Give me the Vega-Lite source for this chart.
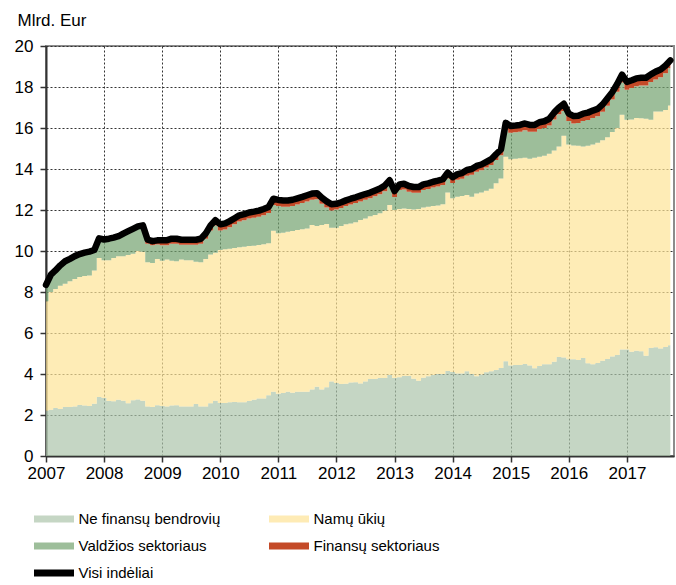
{
"$schema": "https://vega.github.io/schema/vega-lite/v6.json",
"width": 628, "height": 410,
"autosize": {"type": "none"},
"padding": {"left": 46, "top": 46, "right": 2, "bottom": 129},
"background": "white",
"config": {"view": {"stroke": "#8c8c8c", "strokeWidth": 2}, "font": "Liberation Sans"},
"data": {"values": [
{"d":"2007-01-01","Ne finansų bendrovių":2.21,"Namų ūkių":5.34,"Valdžios sektoriaus":0.74,"Finansų sektoriaus":0.06},
{"d":"2007-02-01","Ne finansų bendrovių":2.26,"Namų ūkių":5.74,"Valdžios sektoriaus":0.79,"Finansų sektoriaus":0.06},
{"d":"2007-03-01","Ne finansų bendrovių":2.34,"Namų ūkių":5.81,"Valdžios sektoriaus":0.84,"Finansų sektoriaus":0.06},
{"d":"2007-04-01","Ne finansų bendrovių":2.29,"Namų ūkių":6.01,"Valdžios sektoriaus":0.94,"Finansų sektoriaus":0.06},
{"d":"2007-05-01","Ne finansų bendrovių":2.39,"Namų ūkių":6.01,"Valdžios sektoriaus":1.03,"Finansų sektoriaus":0.07},
{"d":"2007-06-01","Ne finansų bendrovių":2.39,"Namų ūkių":6.13,"Valdžios sektoriaus":1.03,"Finansų sektoriaus":0.07},
{"d":"2007-07-01","Ne finansų bendrovių":2.41,"Namų ūkių":6.23,"Valdžios sektoriaus":1.04,"Finansų sektoriaus":0.07},
{"d":"2007-08-01","Ne finansų bendrovių":2.49,"Namų ūkių":6.24,"Valdžios sektoriaus":1.05,"Finansų sektoriaus":0.07},
{"d":"2007-09-01","Ne finansų bendrovių":2.46,"Namų ūkių":6.32,"Valdžios sektoriaus":1.06,"Finansų sektoriaus":0.08},
{"d":"2007-10-01","Ne finansų bendrovių":2.44,"Namų ūkių":6.36,"Valdžios sektoriaus":1.09,"Finansų sektoriaus":0.08},
{"d":"2007-11-01","Ne finansų bendrovių":2.55,"Namų ūkių":6.50,"Valdžios sektoriaus":0.92,"Finansų sektoriaus":0.08},
{"d":"2007-12-01","Ne finansų bendrovių":2.88,"Namų ūkių":6.78,"Valdžios sektoriaus":0.88,"Finansų sektoriaus":0.08},
{"d":"2008-01-01","Ne finansų bendrovių":2.83,"Namų ūkių":6.72,"Valdžios sektoriaus":0.91,"Finansų sektoriaus":0.10},
{"d":"2008-02-01","Ne finansų bendrovių":2.68,"Namų ūkių":6.87,"Valdžios sektoriaus":0.95,"Finansų sektoriaus":0.10},
{"d":"2008-03-01","Ne finansų bendrovių":2.67,"Namų ūkių":6.99,"Valdžios sektoriaus":0.89,"Finansų sektoriaus":0.10},
{"d":"2008-04-01","Ne finansų bendrovių":2.75,"Namų ūkių":7.00,"Valdžios sektoriaus":0.87,"Finansų sektoriaus":0.10},
{"d":"2008-05-01","Ne finansų bendrovių":2.70,"Namų ūkių":7.05,"Valdžios sektoriaus":1.00,"Finansų sektoriaus":0.10},
{"d":"2008-06-01","Ne finansų bendrovių":2.57,"Namų ūkių":7.23,"Valdžios sektoriaus":1.07,"Finansų sektoriaus":0.10},
{"d":"2008-07-01","Ne finansų bendrovių":2.72,"Namų ūkių":7.14,"Valdžios sektoriaus":1.12,"Finansų sektoriaus":0.10},
{"d":"2008-08-01","Ne finansų bendrovių":2.76,"Namų ūkių":7.24,"Valdžios sektoriaus":1.10,"Finansų sektoriaus":0.10},
{"d":"2008-09-01","Ne finansų bendrovių":2.70,"Namų ūkių":7.26,"Valdžios sektoriaus":1.17,"Finansų sektoriaus":0.12},
{"d":"2008-10-01","Ne finansų bendrovių":2.42,"Namų ūkių":7.03,"Valdžios sektoriaus":0.90,"Finansų sektoriaus":0.20},
{"d":"2008-11-01","Ne finansų bendrovių":2.39,"Namų ūkių":7.03,"Valdžios sektoriaus":0.86,"Finansų sektoriaus":0.20},
{"d":"2008-12-01","Ne finansų bendrovių":2.47,"Namų ūkių":7.14,"Valdžios sektoriaus":0.71,"Finansų sektoriaus":0.20},
{"d":"2009-01-01","Ne finansų bendrovių":2.44,"Namų ūkių":7.09,"Valdžios sektoriaus":0.75,"Finansų sektoriaus":0.25},
{"d":"2009-02-01","Ne finansų bendrovių":2.42,"Namų ūkių":7.16,"Valdžios sektoriaus":0.70,"Finansų sektoriaus":0.25},
{"d":"2009-03-01","Ne finansų bendrovių":2.46,"Namų ūkių":7.07,"Valdžios sektoriaus":0.82,"Finansų sektoriaus":0.25},
{"d":"2009-04-01","Ne finansų bendrovių":2.47,"Namų ūkių":7.03,"Valdžios sektoriaus":0.85,"Finansų sektoriaus":0.25},
{"d":"2009-05-01","Ne finansų bendrovių":2.41,"Namų ūkių":7.17,"Valdžios sektoriaus":0.72,"Finansų sektoriaus":0.25},
{"d":"2009-06-01","Ne finansų bendrovių":2.41,"Namų ūkių":7.14,"Valdžios sektoriaus":0.75,"Finansų sektoriaus":0.25},
{"d":"2009-07-01","Ne finansų bendrovių":2.42,"Namų ūkių":7.13,"Valdžios sektoriaus":0.75,"Finansų sektoriaus":0.25},
{"d":"2009-08-01","Ne finansų bendrovių":2.54,"Namų ūkių":6.93,"Valdžios sektoriaus":0.83,"Finansų sektoriaus":0.25},
{"d":"2009-09-01","Ne finansų bendrovių":2.41,"Namų ūkių":7.04,"Valdžios sektoriaus":0.90,"Finansų sektoriaus":0.25},
{"d":"2009-10-01","Ne finansų bendrovių":2.41,"Namų ūkių":7.20,"Valdžios sektoriaus":0.99,"Finansų sektoriaus":0.25},
{"d":"2009-11-01","Ne finansų bendrovių":2.57,"Namų ūkių":7.26,"Valdžios sektoriaus":1.17,"Finansų sektoriaus":0.25},
{"d":"2009-12-01","Ne finansų bendrovių":2.70,"Namų ūkių":7.21,"Valdžios sektoriaus":1.34,"Finansų sektoriaus":0.25},
{"d":"2010-01-01","Ne finansų bendrovių":2.59,"Namų ūkių":7.46,"Valdžios sektoriaus":0.95,"Finansų sektoriaus":0.30},
{"d":"2010-02-01","Ne finansų bendrovių":2.59,"Namų ūkių":7.49,"Valdžios sektoriaus":0.97,"Finansų sektoriaus":0.30},
{"d":"2010-03-01","Ne finansų bendrovių":2.62,"Namų ūkių":7.49,"Valdžios sektoriaus":1.05,"Finansų sektoriaus":0.30},
{"d":"2010-04-01","Ne finansų bendrovių":2.63,"Namų ūkių":7.52,"Valdžios sektoriaus":1.15,"Finansų sektoriaus":0.30},
{"d":"2010-05-01","Ne finansų bendrovių":2.62,"Namų ūkių":7.56,"Valdžios sektoriaus":1.26,"Finansų sektoriaus":0.30},
{"d":"2010-06-01","Ne finansų bendrovių":2.62,"Namų ūkių":7.59,"Valdžios sektoriaus":1.29,"Finansų sektoriaus":0.30},
{"d":"2010-07-01","Ne finansų bendrovių":2.68,"Namų ūkių":7.56,"Valdžios sektoriaus":1.34,"Finansų sektoriaus":0.30},
{"d":"2010-08-01","Ne finansų bendrovių":2.75,"Namų ūkių":7.51,"Valdžios sektoriaus":1.36,"Finansų sektoriaus":0.30},
{"d":"2010-09-01","Ne finansų bendrovių":2.80,"Namų ūkių":7.49,"Valdžios sektoriaus":1.38,"Finansų sektoriaus":0.30},
{"d":"2010-10-01","Ne finansų bendrovių":2.81,"Namų ūkių":7.52,"Valdžios sektoriaus":1.42,"Finansų sektoriaus":0.30},
{"d":"2010-11-01","Ne finansų bendrovių":2.96,"Namų ūkių":7.42,"Valdžios sektoriaus":1.47,"Finansų sektoriaus":0.30},
{"d":"2010-12-01","Ne finansų bendrovių":3.14,"Namų ūkių":7.85,"Valdžios sektoriaus":1.26,"Finansų sektoriaus":0.30},
{"d":"2011-01-01","Ne finansų bendrovių":3.04,"Namų ūkių":7.82,"Valdžios sektoriaus":1.33,"Finansų sektoriaus":0.30},
{"d":"2011-02-01","Ne finansų bendrovių":3.07,"Namų ūkių":7.82,"Valdžios sektoriaus":1.27,"Finansų sektoriaus":0.30},
{"d":"2011-03-01","Ne finansų bendrovių":3.14,"Namų ūkių":7.80,"Valdžios sektoriaus":1.22,"Finansų sektoriaus":0.30},
{"d":"2011-04-01","Ne finansų bendrovių":3.09,"Namų ūkių":7.89,"Valdžios sektoriaus":1.22,"Finansų sektoriaus":0.30},
{"d":"2011-05-01","Ne finansų bendrovių":3.14,"Namų ūkių":7.88,"Valdžios sektoriaus":1.25,"Finansų sektoriaus":0.30},
{"d":"2011-06-01","Ne finansų bendrovių":3.14,"Namų ūkių":7.92,"Valdžios sektoriaus":1.28,"Finansų sektoriaus":0.30},
{"d":"2011-07-01","Ne finansų bendrovių":3.14,"Namų ūkių":7.96,"Valdžios sektoriaus":1.32,"Finansų sektoriaus":0.30},
{"d":"2011-08-01","Ne finansų bendrovių":3.24,"Namų ūkių":8.03,"Valdžios sektoriaus":1.23,"Finansų sektoriaus":0.30},
{"d":"2011-09-01","Ne finansų bendrovių":3.38,"Namų ūkių":7.84,"Valdžios sektoriaus":1.30,"Finansų sektoriaus":0.30},
{"d":"2011-10-01","Ne finansų bendrovių":3.24,"Namų ūkių":8.03,"Valdžios sektoriaus":1.03,"Finansų sektoriaus":0.30},
{"d":"2011-11-01","Ne finansų bendrovių":3.35,"Namų ūkių":7.97,"Valdžios sektoriaus":0.80,"Finansų sektoriaus":0.30},
{"d":"2011-12-01","Ne finansų bendrovių":3.63,"Namų ūkių":7.51,"Valdžios sektoriaus":0.84,"Finansų sektoriaus":0.30},
{"d":"2012-01-01","Ne finansų bendrovių":3.56,"Namų ūkių":7.58,"Valdžios sektoriaus":0.88,"Finansų sektoriaus":0.28},
{"d":"2012-02-01","Ne finansų bendrovių":3.51,"Namų ūkių":7.71,"Valdžios sektoriaus":0.88,"Finansų sektoriaus":0.28},
{"d":"2012-03-01","Ne finansų bendrovių":3.52,"Namų ūkių":7.78,"Valdžios sektoriaus":0.89,"Finansų sektoriaus":0.28},
{"d":"2012-04-01","Ne finansų bendrovių":3.58,"Namų ūkių":7.76,"Valdžios sektoriaus":0.93,"Finansų sektoriaus":0.28},
{"d":"2012-05-01","Ne finansų bendrovių":3.60,"Namų ūkių":7.80,"Valdžios sektoriaus":0.94,"Finansų sektoriaus":0.28},
{"d":"2012-06-01","Ne finansų bendrovių":3.54,"Namų ūkių":7.97,"Valdžios sektoriaus":0.91,"Finansų sektoriaus":0.28},
{"d":"2012-07-01","Ne finansų bendrovių":3.63,"Namų ūkių":7.96,"Valdžios sektoriaus":0.91,"Finansų sektoriaus":0.28},
{"d":"2012-08-01","Ne finansų bendrovių":3.76,"Namų ūkių":7.94,"Valdžios sektoriaus":0.87,"Finansų sektoriaus":0.28},
{"d":"2012-09-01","Ne finansų bendrovių":3.76,"Namų ūkių":8.00,"Valdžios sektoriaus":0.91,"Finansų sektoriaus":0.28},
{"d":"2012-10-01","Ne finansų bendrovių":3.80,"Namų ūkių":8.04,"Valdžios sektoriaus":0.93,"Finansų sektoriaus":0.28},
{"d":"2012-11-01","Ne finansų bendrovių":3.80,"Namų ūkių":8.17,"Valdžios sektoriaus":0.95,"Finansų sektoriaus":0.28},
{"d":"2012-12-01","Ne finansų bendrovių":3.95,"Namų ūkių":8.29,"Valdžios sektoriaus":0.93,"Finansų sektoriaus":0.28},
{"d":"2013-01-01","Ne finansų bendrovių":3.80,"Namų ūkių":8.20,"Valdžios sektoriaus":0.64,"Finansų sektoriaus":0.28},
{"d":"2013-02-01","Ne finansų bendrovių":3.84,"Namų ūkių":8.21,"Valdžios sektoriaus":0.92,"Finansų sektoriaus":0.28},
{"d":"2013-03-01","Ne finansų bendrovių":3.90,"Namų ūkių":8.17,"Valdžios sektoriaus":0.93,"Finansų sektoriaus":0.28},
{"d":"2013-04-01","Ne finansų bendrovių":3.90,"Namų ūkių":8.15,"Valdžios sektoriaus":0.84,"Finansų sektoriaus":0.28},
{"d":"2013-05-01","Ne finansų bendrovių":3.77,"Namų ūkių":8.25,"Valdžios sektoriaus":0.82,"Finansų sektoriaus":0.28},
{"d":"2013-06-01","Ne finansų bendrovių":3.67,"Namų ūkių":8.38,"Valdžios sektoriaus":0.79,"Finansų sektoriaus":0.28},
{"d":"2013-07-01","Ne finansų bendrovių":3.82,"Namų ūkių":8.30,"Valdžios sektoriaus":0.85,"Finansų sektoriaus":0.28},
{"d":"2013-08-01","Ne finansų bendrovių":3.89,"Namų ūkių":8.27,"Valdžios sektoriaus":0.86,"Finansų sektoriaus":0.28},
{"d":"2013-09-01","Ne finansų bendrovių":3.95,"Namų ūkių":8.25,"Valdžios sektoriaus":0.90,"Finansų sektoriaus":0.28},
{"d":"2013-10-01","Ne finansų bendrovių":4.00,"Namų ūkių":8.22,"Valdžios sektoriaus":0.93,"Finansų sektoriaus":0.28},
{"d":"2013-11-01","Ne finansų bendrovių":4.00,"Namų ūkių":8.28,"Valdžios sektoriaus":0.94,"Finansų sektoriaus":0.28},
{"d":"2013-12-01","Ne finansų bendrovių":4.15,"Namų ūkių":8.70,"Valdžios sektoriaus":0.69,"Finansų sektoriaus":0.28},
{"d":"2014-01-01","Ne finansų bendrovių":4.10,"Namų ūkių":8.47,"Valdžios sektoriaus":0.75,"Finansų sektoriaus":0.28},
{"d":"2014-02-01","Ne finansų bendrovių":4.03,"Namų ūkių":8.62,"Valdžios sektoriaus":0.82,"Finansų sektoriaus":0.28},
{"d":"2014-03-01","Ne finansų bendrovių":4.03,"Namų ūkių":8.65,"Valdžios sektoriaus":0.84,"Finansų sektoriaus":0.28},
{"d":"2014-04-01","Ne finansų bendrovių":4.13,"Namų ūkių":8.60,"Valdžios sektoriaus":0.94,"Finansų sektoriaus":0.28},
{"d":"2014-05-01","Ne finansų bendrovių":4.00,"Namų ūkių":8.65,"Valdžios sektoriaus":1.07,"Finansų sektoriaus":0.28},
{"d":"2014-06-01","Ne finansų bendrovių":3.89,"Namų ūkių":8.92,"Valdžios sektoriaus":1.06,"Finansų sektoriaus":0.28},
{"d":"2014-07-01","Ne finansų bendrovių":3.97,"Namų ūkių":8.88,"Valdžios sektoriaus":1.09,"Finansų sektoriaus":0.28},
{"d":"2014-08-01","Ne finansų bendrovių":4.08,"Namų ūkių":8.86,"Valdžios sektoriaus":1.13,"Finansų sektoriaus":0.28},
{"d":"2014-09-01","Ne finansų bendrovių":4.13,"Namų ūkių":8.91,"Valdžios sektoriaus":1.16,"Finansų sektoriaus":0.28},
{"d":"2014-10-01","Ne finansų bendrovių":4.20,"Namų ūkių":9.10,"Valdžios sektoriaus":1.14,"Finansų sektoriaus":0.28},
{"d":"2014-11-01","Ne finansų bendrovių":4.29,"Namų ūkių":9.25,"Valdžios sektoriaus":1.13,"Finansų sektoriaus":0.28},
{"d":"2014-12-01","Ne finansų bendrovių":4.62,"Namų ūkių":9.98,"Valdžios sektoriaus":1.32,"Finansų sektoriaus":0.33},
{"d":"2015-01-01","Ne finansų bendrovių":4.41,"Namų ūkių":10.06,"Valdžios sektoriaus":1.30,"Finansų sektoriaus":0.33},
{"d":"2015-02-01","Ne finansų bendrovių":4.44,"Namų ūkių":10.06,"Valdžios sektoriaus":1.29,"Finansų sektoriaus":0.33},
{"d":"2015-03-01","Ne finansų bendrovių":4.44,"Namų ūkių":10.08,"Valdžios sektoriaus":1.30,"Finansų sektoriaus":0.33},
{"d":"2015-04-01","Ne finansų bendrovių":4.49,"Namų ūkių":10.06,"Valdžios sektoriaus":1.34,"Finansų sektoriaus":0.33},
{"d":"2015-05-01","Ne finansų bendrovių":4.41,"Namų ūkių":10.09,"Valdžios sektoriaus":1.32,"Finansų sektoriaus":0.33},
{"d":"2015-06-01","Ne finansų bendrovių":4.28,"Namų ūkių":10.27,"Valdžios sektoriaus":1.27,"Finansų sektoriaus":0.33},
{"d":"2015-07-01","Ne finansų bendrovių":4.39,"Namų ūkių":10.21,"Valdžios sektoriaus":1.35,"Finansų sektoriaus":0.33},
{"d":"2015-08-01","Ne finansų bendrovių":4.47,"Namų ūkių":10.18,"Valdžios sektoriaus":1.35,"Finansų sektoriaus":0.33},
{"d":"2015-09-01","Ne finansų bendrovių":4.47,"Namų ūkių":10.28,"Valdžios sektoriaus":1.37,"Finansų sektoriaus":0.33},
{"d":"2015-10-01","Ne finansų bendrovių":4.60,"Namų ūkių":10.30,"Valdžios sektoriaus":1.52,"Finansų sektoriaus":0.33},
{"d":"2015-11-01","Ne finansų bendrovių":4.83,"Namų ūkių":10.27,"Valdžios sektoriaus":1.57,"Finansų sektoriaus":0.33},
{"d":"2015-12-01","Ne finansų bendrovių":4.81,"Namų ūkių":10.81,"Valdžios sektoriaus":1.21,"Finansų sektoriaus":0.35},
{"d":"2016-01-01","Ne finansų bendrovių":4.72,"Namų ūkių":10.48,"Valdžios sektoriaus":1.14,"Finansų sektoriaus":0.36},
{"d":"2016-02-01","Ne finansų bendrovių":4.72,"Namų ūkių":10.43,"Valdžios sektoriaus":1.07,"Finansų sektoriaus":0.36},
{"d":"2016-03-01","Ne finansų bendrovių":4.68,"Namų ūkių":10.46,"Valdžios sektoriaus":1.10,"Finansų sektoriaus":0.36},
{"d":"2016-04-01","Ne finansų bendrovių":4.78,"Namų ūkių":10.32,"Valdžios sektoriaus":1.24,"Finansų sektoriaus":0.36},
{"d":"2016-05-01","Ne finansų bendrovių":4.52,"Namų ūkių":10.62,"Valdžios sektoriaus":1.25,"Finansų sektoriaus":0.36},
{"d":"2016-06-01","Ne finansų bendrovių":4.47,"Namų ūkių":10.72,"Valdžios sektoriaus":1.30,"Finansų sektoriaus":0.36},
{"d":"2016-07-01","Ne finansų bendrovių":4.54,"Namų ūkių":10.74,"Valdžios sektoriaus":1.29,"Finansų sektoriaus":0.36},
{"d":"2016-08-01","Ne finansų bendrovių":4.65,"Namų ūkių":10.75,"Valdžios sektoriaus":1.39,"Finansų sektoriaus":0.36},
{"d":"2016-09-01","Ne finansų bendrovių":4.73,"Namų ūkių":10.82,"Valdžios sektoriaus":1.54,"Finansų sektoriaus":0.36},
{"d":"2016-10-01","Ne finansų bendrovių":4.85,"Namų ūkių":10.95,"Valdžios sektoriaus":1.59,"Finansų sektoriaus":0.36},
{"d":"2016-11-01","Ne finansų bendrovių":4.93,"Namų ūkių":11.07,"Valdžios sektoriaus":1.77,"Finansų sektoriaus":0.38},
{"d":"2016-12-01","Ne finansų bendrovių":5.20,"Namų ūkių":11.45,"Valdžios sektoriaus":1.57,"Finansų sektoriaus":0.38},
{"d":"2017-01-01","Ne finansų bendrovių":5.19,"Namų ūkių":11.21,"Valdžios sektoriaus":1.47,"Finansų sektoriaus":0.38},
{"d":"2017-02-01","Ne finansų bendrovių":5.09,"Namų ūkių":11.33,"Valdžios sektoriaus":1.53,"Finansų sektoriaus":0.38},
{"d":"2017-03-01","Ne finansų bendrovių":5.14,"Namų ūkių":11.35,"Valdžios sektoriaus":1.55,"Finansų sektoriaus":0.38},
{"d":"2017-04-01","Ne finansų bendrovių":5.11,"Namų ūkių":11.36,"Valdžios sektoriaus":1.60,"Finansų sektoriaus":0.38},
{"d":"2017-05-01","Ne finansų bendrovių":4.89,"Namų ūkių":11.56,"Valdžios sektoriaus":1.62,"Finansų sektoriaus":0.38},
{"d":"2017-06-01","Ne finansų bendrovių":5.27,"Namų ūkių":11.13,"Valdžios sektoriaus":1.84,"Finansų sektoriaus":0.38},
{"d":"2017-07-01","Ne finansų bendrovių":5.30,"Namų ūkių":11.51,"Valdžios sektoriaus":1.56,"Finansų sektoriaus":0.38},
{"d":"2017-08-01","Ne finansų bendrovių":5.24,"Namų ūkių":11.57,"Valdžios sektoriaus":1.66,"Finansų sektoriaus":0.38},
{"d":"2017-09-01","Ne finansų bendrovių":5.32,"Namų ūkių":11.56,"Valdžios sektoriaus":1.79,"Finansų sektoriaus":0.38},
{"d":"2017-10-01","Ne finansų bendrovių":5.40,"Namų ūkių":11.70,"Valdžios sektoriaus":1.82,"Finansų sektoriaus":0.38}
]},
"transform": [
  {"fold": ["Ne finansų bendrovių","Namų ūkių","Valdžios sektoriaus","Finansų sektoriaus"], "as": ["sektorius","reiksme"]},
  {"window": [{"op": "row_number", "as": "eile"}], "groupby": ["d"]}
],
"encoding": {
  "x": {"field": "d", "type": "temporal",
    "scale": {"type": "utc", "nice": false, "domain": [{"year":2007,"month":1,"date":1,"utc":true},{"year":2017,"month":10,"date":24,"utc":true}]},
    "axis": {"title": null, "format": "%Y", "labelFlush": false, "labelOverlap": false,
      "values": [{"year":2007,"utc":true},{"year":2008,"utc":true},{"year":2009,"utc":true},{"year":2010,"utc":true},{"year":2011,"utc":true},{"year":2012,"utc":true},{"year":2013,"utc":true},{"year":2014,"utc":true},{"year":2015,"utc":true},{"year":2016,"utc":true},{"year":2017,"utc":true}],
      "tickSize": 6, "tickColor": "#333", "tickWidth": 1.5, "labelPadding": 3, "labelFontSize": 17, "labelColor": "#000", "labelFont": "Liberation Sans",
      "domainColor": "#333", "domainWidth": 2, "grid": true, "gridDash": [2,2], "gridColor": "#333", "gridWidth": 1}
  }
},
"layer": [
  {"mark": {"type": "area", "interpolate": "step", "strokeWidth": 0},
   "encoding": {
     "y": {"field": "reiksme", "type": "quantitative", "stack": "zero",
       "scale": {"domain": [0,20], "nice": false},
       "axis": {"title": "Mlrd. Eur", "titleAngle": 0, "titleX": -29, "titleY": -21, "titleAlign": "left", "titleBaseline": "alphabetic", "titleFont": "Liberation Sans", "titleFontSize": 17, "titleFontWeight": "normal", "titleColor": "#000",
         "values": [0,2,4,6,8,10,12,14,16,18,20], "tickSize": 6, "tickColor": "#333", "tickWidth": 1.5, "labelPadding": 7, "labelFontSize": 17, "labelColor": "#000", "labelFont": "Liberation Sans",
         "domainColor": "#333", "domainWidth": 2, "grid": true, "gridDash": [2,2], "gridColor": "#333", "gridWidth": 1}},
     "fill": {"field": "sektorius", "type": "nominal",
       "scale": {"domain": ["Ne finansų bendrovių","Namų ūkių","Valdžios sektoriaus","Finansų sektoriaus"], "range": ["#ACC4AB","#FEE497","#73A26F","#C44A28"]},
       "legend": null},
     "stroke": {"field": "sektorius", "type": "nominal",
       "scale": {"domain": ["Ne finansų bendrovių","Valdžios sektoriaus","Visi indėliai","Namų ūkių","Finansų sektoriaus"], "range": ["#C5D6C4","#9DBE9A","#000000","#FEEBB5","#C44A28"]},
       "legend": {"title": null, "orient": "none", "legendX": -15.5, "legendY": 464.5, "columns": 2, "columnPadding": 45, "rowPadding": 10, "padding": 0, "clipHeight": 17,
         "symbolType": "stroke", "symbolSize": 1600, "symbolStrokeWidth": 7, "symbolOpacity": 1, "labelOffset": 1,
         "labelFont": "Liberation Sans", "labelFontSize": 15, "labelColor": "#000", "labelLimit": 300,
         "encode": {"symbols": {"update": {
           "fill": {"value": "transparent"},
           "strokeWidth": {"value": 7},
           "strokeCap": {"signal": "datum.value === 'Visi indėliai' ? 'round' : 'butt'"}}}}}},
     "order": {"field": "eile", "type": "quantitative"},
     "opacity": {"condition": {"test": "datum.sektorius === 'Finansų sektoriaus'", "value": 1}, "value": 0.7}
   }},
  {"mark": {"type": "line", "strokeWidth": 6.5, "strokeJoin": "round", "strokeCap": "round"},
   "encoding": {
     "y": {"aggregate": "sum", "field": "reiksme", "type": "quantitative"},
     "stroke": {"datum": "Visi indėliai"}
   }}
]
}
